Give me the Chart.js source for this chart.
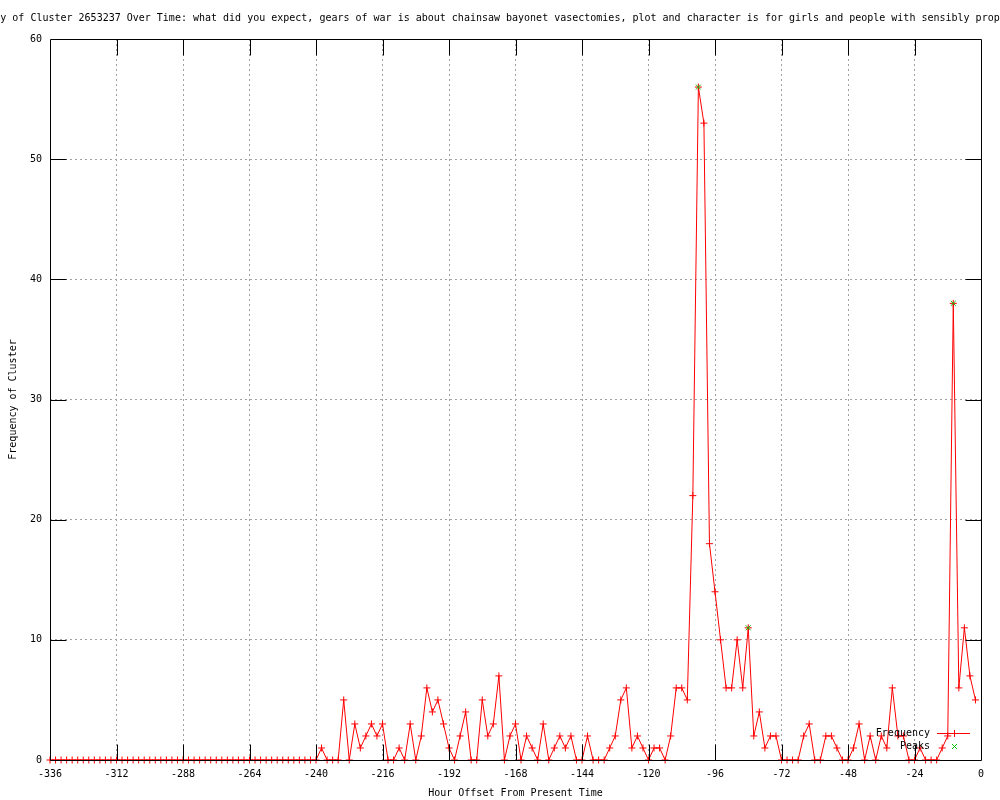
<!DOCTYPE html>
<html>
<head>
<meta charset="utf-8">
<script src="https://cdn.jsdelivr.net/npm/chart.js@4/dist/chart.umd.min.js"></script>
<style>
  html, body { margin: 0; padding: 0; background: #fff; }
</style>
</head>
<body>
<canvas id="chart" width="1000" height="800"></canvas>
<script>
// hour offsets (every 2 hours) and cluster frequency
const hours = [
  -336, -334, -332, -330, -328, -326, -324, -322, -320, -318, -316, -314,
  -312, -310, -308, -306, -304, -302, -300, -298, -296, -294, -292, -290,
  -288, -286, -284, -282, -280, -278, -276, -274, -272, -270, -268, -266,
  -264, -262, -260, -258, -256, -254, -252, -250, -248, -246, -244, -242,
  -240, -238, -236, -234, -232, -230, -228, -226, -224, -222, -220, -218,
  -216, -214, -212, -210, -208, -206, -204, -202, -200, -198, -196, -194,
  -192, -190, -188, -186, -184, -182, -180, -178, -176, -174, -172, -170,
  -168, -166, -164, -162, -160, -158, -156, -154, -152, -150, -148, -146,
  -144, -142, -140, -138, -136, -134, -132, -130, -128, -126, -124, -122,
  -120, -118, -116, -114, -112, -110, -108, -106, -104, -102, -100, -98,
  -96, -94, -92, -90, -88, -86, -84, -82, -80, -78, -76, -74,
  -72, -70, -68, -66, -64, -62, -60, -58, -56, -54, -52, -50,
  -48, -46, -44, -42, -40, -38, -36, -34, -32, -30, -28, -26,
  -24, -22, -20, -18, -16, -14, -12, -10, -8, -6, -4, -2
];
const frequency = [
  0, 0, 0, 0, 0, 0, 0, 0, 0, 0, 0, 0,
  0, 0, 0, 0, 0, 0, 0, 0, 0, 0, 0, 0,
  0, 0, 0, 0, 0, 0, 0, 0, 0, 0, 0, 0,
  0, 0, 0, 0, 0, 0, 0, 0, 0, 0, 0, 0,
  0, 1, 0, 0, 0, 5, 0, 3, 1, 2, 3, 2,
  3, 0, 0, 1, 0, 3, 0, 2, 6, 4, 5, 3,
  1, 0, 2, 4, 0, 0, 5, 2, 3, 7, 0, 2,
  3, 0, 2, 1, 0, 3, 0, 1, 2, 1, 2, 0,
  0, 2, 0, 0, 0, 1, 2, 5, 6, 1, 2, 1,
  0, 1, 1, 0, 2, 6, 6, 5, 22, 56, 53, 18,
  14, 10, 6, 6, 10, 6, 11, 2, 4, 1, 2, 2,
  0, 0, 0, 0, 2, 3, 0, 0, 2, 2, 1, 0,
  0, 1, 3, 0, 2, 0, 2, 1, 6, 2, 2, 0,
  0, 1, 0, 0, 0, 1, 2, 38, 6, 11, 7, 5
];
const peakHours = [-102, -84, -10];
const peakValues = [56, 11, 38];

const xTicks = [-336, -312, -288, -264, -240, -216, -192, -168, -144, -120, -96, -72, -48, -24, 0];
const yTicks = [0, 10, 20, 30, 40, 50, 60];

const titleText = "Frequency of Cluster 2653237 Over Time: what did you expect, gears of war is about chainsaw bayonet vasectomies, plot and character is for girls and people with sensibly proportioned";

const RED = "#ff0000";
const GREEN = "#00c000";
const MONO = "'DejaVu Sans Mono', 'Liberation Mono', monospace";
Chart.defaults.font.family = MONO;
Chart.defaults.font.size = 10;
Chart.defaults.color = "#000";

// gnuplot style title, centred and allowed to run off the canvas
const titlePlugin = {
  id: "gnuTitle",
  afterDraw(chart) {
    const ctx = chart.ctx;
    ctx.save();
    ctx.font = "10px " + MONO;
    ctx.fillStyle = "#000";
    ctx.textAlign = "center";
    ctx.textBaseline = "middle";
    ctx.fillText(titleText, chart.width / 2, 18);
    ctx.restore();
  }
};

// plot border with inward tics on all four sides
const framePlugin = {
  id: "frame",
  afterDatasetsDraw(chart) {
    const {ctx, chartArea: a, scales} = chart;
    const L = Math.round(a.left) + 0.5, R = Math.round(a.right) + 0.5;
    const T = Math.round(a.top) + 0.5, B = Math.round(a.bottom) + 0.5;
    const tic = 16;
    ctx.save();
    ctx.strokeStyle = "#000";
    ctx.lineWidth = 1;
    ctx.beginPath();
    ctx.rect(L, T, R - L, B - T);
    xTicks.slice(1, -1).forEach(v => {
      const px = Math.round(scales.x.getPixelForValue(v)) + 0.5;
      ctx.moveTo(px, B); ctx.lineTo(px, B - tic);
      ctx.moveTo(px, T); ctx.lineTo(px, T + tic);
    });
    yTicks.slice(1, -1).forEach(v => {
      const py = Math.round(scales.y.getPixelForValue(v)) + 0.5;
      ctx.moveTo(L, py); ctx.lineTo(L + tic, py);
      ctx.moveTo(R, py); ctx.lineTo(R - tic, py);
    });
    ctx.stroke();
    ctx.restore();
  }
};

// key in the lower right corner, text left of the sample
const keyPlugin = {
  id: "gnuKey",
  afterDraw(chart) {
    const {ctx, chartArea: a} = chart;
    const textRight = a.right - 51;
    const x0 = a.right - 44, x1 = a.right - 11, xm = Math.round((x0 + x1) / 2) + 0.5;
    ctx.save();
    ctx.font = "10px " + MONO;
    ctx.textAlign = "right";
    ctx.textBaseline = "middle";
    chart.data.datasets.forEach((ds, i) => {
      const y = Math.round(a.bottom - 27 + i * 13) + 0.5;
      ctx.fillStyle = "#000";
      ctx.fillText(ds.label, textRight, y);
      const col = i === 0 ? RED : GREEN;
      ctx.lineWidth = 1;
      ctx.strokeStyle = col;
      ctx.fillStyle = col;
      if (ds.showLine !== false) {
        ctx.beginPath();
        ctx.moveTo(x0, y); ctx.lineTo(x1, y);
        ctx.stroke();
      }
      Chart.helpers.drawPoint(ctx, {
        pointStyle: ds.pointStyle, radius: ds.pointRadius, borderWidth: 1, rotation: 0
      }, xm, y);
    });
    ctx.restore();
  }
};

const gridColor = ends => ctx => (ends.includes(ctx.tick.value) ? "rgba(0,0,0,0)" : "#a0a0a0");

new Chart(document.getElementById("chart"), {
  type: "line",
  data: {
    datasets: [
      {
        label: "Frequency",
        data: hours.map((h, i) => ({x: h, y: frequency[i]})),
        borderColor: RED,
        backgroundColor: RED,
        borderWidth: 1,
        pointStyle: "cross",
        pointRadius: 3.5,
        pointBorderWidth: 1,
        tension: 0,
        clip: false,
        order: 1
      },
      {
        label: "Peaks",
        data: peakHours.map((h, i) => ({x: h, y: peakValues[i]})),
        borderColor: GREEN,
        backgroundColor: GREEN,
        showLine: false,
        pointStyle: "crossRot",
        pointRadius: 3.5,
        pointBorderWidth: 1,
        clip: false,
        order: 0
      }
    ]
  },
  options: {
    responsive: false,
    animation: false,
    devicePixelRatio: 1,
    layout: { padding: { top: 39, right: 19, left: 0, bottom: 0 } },
    plugins: {
      legend: { display: false },
      title: { display: false },
      tooltip: { enabled: false }
    },
    scales: {
      x: {
        type: "linear",
        min: -336,
        max: 0,
        afterFit: s => { s.height = 40; },
        afterBuildTicks: s => { s.ticks = xTicks.map(v => ({value: v})); },
        ticks: { padding: 8, maxRotation: 0, autoSkip: false, color: "#000" },
        grid: { color: gridColor([-336, 0]), lineWidth: 1, drawTicks: false },
        border: { display: false, dash: [2, 3] },
        title: { display: true, text: "Hour Offset From Present Time", color: "#000", padding: { top: 0, bottom: 1 } }
      },
      y: {
        min: 0,
        max: 60,
        afterFit: s => { s.width = 50; },
        afterBuildTicks: s => { s.ticks = yTicks.map(v => ({value: v})); },
        ticks: { padding: 8, color: "#000" },
        grid: { color: gridColor([0, 60]), lineWidth: 1, drawTicks: false },
        border: { display: false, dash: [2, 3] },
        title: { display: true, text: "Frequency of Cluster", color: "#000", padding: { top: 7, bottom: 0 } }
      }
    }
  },
  plugins: [framePlugin, keyPlugin, titlePlugin]
});
</script>
</body>
</html>
